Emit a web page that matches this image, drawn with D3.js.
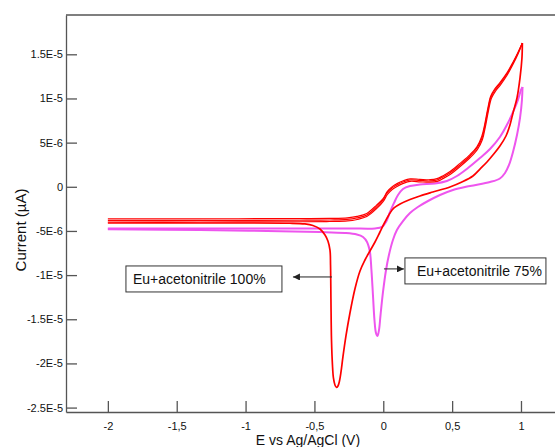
<!DOCTYPE html>
<html>
<head>
<meta charset="utf-8">
<script src="https://cdn.jsdelivr.net/npm/d3@7"></script>
<style>
	body { margin: 0; background: #fff; }
	svg { display: block; font-family: Arial, "Liberation Sans", sans-serif; }
	.axis path, .axis line { stroke: #555; stroke-width: 1.3; }
	.axis text { fill: #111; font-size: 11px; }
</style>
</head>
<body>
<div id="chart"></div>
<script>

// E vs Ag/AgCl (V), current in units of 1E-6 A

// Eu+acetonitrile 100%, forward sweeps (three cycles)
var redUp1 = [[-2.0,-3.63],[-1.33,-3.63],[-0.6,-3.60],[-0.39,-3.58],[-0.26,-3.52],[-0.19,-3.36],[-0.12,-3.02],[-0.05,-2.10],[0.0,-1.30],[0.03,-0.52],[0.065,0.02],[0.10,0.36],[0.145,0.68],[0.195,0.90],[0.265,0.85],[0.34,0.80],[0.39,0.92],[0.435,1.26],[0.485,1.72],[0.555,2.62],[0.63,3.64],[0.68,4.52],[0.715,5.7],[0.737,7.1],[0.758,8.8],[0.78,10.25],[0.81,11.1],[0.847,11.8],[0.898,12.9],[0.942,14.1],[0.978,15.2],[1.01,16.28]]
var redUp2 = [[-2.0,-3.82],[-1.33,-3.82],[-0.605,-3.79],[-0.387,-3.76],[-0.264,-3.70],[-0.192,-3.53],[-0.119,-3.19],[-0.046,-2.25],[-0.002,-1.49],[0.027,-0.70],[0.063,-0.14],[0.099,0.20],[0.143,0.54],[0.194,0.77],[0.266,0.71],[0.339,0.66],[0.39,0.77],[0.434,1.11],[0.484,1.56],[0.557,2.47],[0.63,3.49],[0.68,4.39],[0.717,5.53],[0.739,7.0],[0.76,8.7],[0.782,10.17],[0.811,10.96],[0.847,11.64],[0.898,12.77],[0.942,14.02],[0.978,15.15],[1.01,16.28]]
var redUp3 = [[-2.0,-3.99],[-1.33,-3.99],[-0.6,-3.96],[-0.39,-3.93],[-0.26,-3.87],[-0.19,-3.70],[-0.12,-3.37],[-0.045,-2.42],[0.0,-1.66],[0.03,-0.86],[0.065,-0.30],[0.10,0.04],[0.145,0.38],[0.195,0.62],[0.267,0.56],[0.34,0.52],[0.392,0.62],[0.436,0.95],[0.488,1.42],[0.56,2.32],[0.633,3.34],[0.684,4.24],[0.72,5.36],[0.742,6.85],[0.763,8.55],[0.786,10.05],[0.815,10.84],[0.85,11.52],[0.9,12.66],[0.945,13.95],[0.98,15.1],[1.01,16.25]]
// Eu+acetonitrile 100%, reverse sweep with the reduction peak
var redDown = [[1.01,16.28],[1.007,14.58],[0.993,12.32],[0.971,10.05],[0.942,8.36],[0.92,7.0],[0.891,5.75],[0.847,4.62],[0.796,3.60],[0.753,2.81],[0.702,2.01],[0.651,1.22],[0.571,0.54],[0.484,-0.02],[0.36,-0.59],[0.266,-1.04],[0.194,-1.44],[0.122,-1.95],[0.078,-2.40],[0.049,-2.97],[0.012,-3.99],[-0.024,-5.12],[-0.06,-6.25],[-0.097,-7.27],[-0.133,-8.29],[-0.169,-9.53],[-0.206,-11.57],[-0.242,-14.29],[-0.271,-16.89],[-0.293,-19.27],[-0.307,-20.97],[-0.318,-21.99],[-0.329,-22.55],[-0.34,-22.72],[-0.351,-22.44],[-0.362,-21.65],[-0.369,-20.18],[-0.376,-17.35],[-0.38,-12.82],[-0.383,-8.86],[-0.387,-7.16],[-0.402,-6.14],[-0.423,-5.46],[-0.46,-4.78],[-0.511,-4.38],[-0.569,-4.21],[-0.678,-4.13],[-1.331,-4.10],[-2.0,-4.10]]

// Eu+acetonitrile 75%
var pinkUp = [[-2.0,-4.72],[-1.331,-4.72],[-0.605,-4.72],[-0.242,-4.72],[-0.06,-4.72],[-0.009,-4.55],[0.02,-3.99],[0.049,-2.85],[0.078,-1.83],[0.107,-0.93],[0.143,-0.25],[0.194,0.09],[0.266,0.26],[0.375,0.37],[0.462,0.66],[0.535,1.22],[0.615,2.13],[0.702,3.26],[0.775,4.28],[0.847,5.64],[0.905,7.22],[0.949,8.70],[0.978,9.83],[1.0,10.96],[1.011,11.30]]
var pinkDown = [[1.011,11.30],[1.007,9.83],[0.993,7.79],[0.971,5.86],[0.942,3.94],[0.913,2.47],[0.884,1.56],[0.847,0.94],[0.775,0.54],[0.63,0.09],[0.506,-0.36],[0.412,-0.93],[0.325,-1.61],[0.251,-2.29],[0.194,-2.97],[0.143,-3.88],[0.099,-4.89],[0.07,-6.02],[0.041,-7.72],[0.02,-9.42],[-0.002,-11.91],[-0.02,-14.52],[-0.031,-16.21],[-0.042,-16.89],[-0.053,-16.55],[-0.064,-15.08],[-0.075,-12.25],[-0.086,-9.42],[-0.097,-7.38],[-0.118,-6.25],[-0.147,-5.68],[-0.192,-5.40],[-0.278,-5.23],[-0.46,-5.12],[-1.331,-4.90],[-2.0,-4.80]]

var xTicks = [-2, -1.5, -1, -0.5, 0, 0.5, 1]
var xTickLabels = ["-2", "-1,5", "-1", "-0,5", "0", "0,5", "1"]
var yTicks = [15, 10, 5, 0, -5, -10, -15, -20, -25]
var yTickLabels = ["1.5E-5", "1E-5", "5E-6", "0", "-5E-6", "-1E-5", "-1.5E-5", "-2E-5", "-2.5E-5"]

var labels = ["Eu+acetonitrile 100%", "Eu+acetonitrile 75%"]

var width = 555
var height = 447
var margin = {top: 15, right: 0, bottom: 35, left: 66}

var svg = d3.select("#chart").append("svg")
	.attr("width", width)
	.attr("height", height)

var x = d3.scaleLinear().domain([-2.304, 1.247]).range([margin.left, width - margin.right])
var y = d3.scaleLinear().domain([-25.5, 19.45]).range([height - margin.bottom, margin.top])

var yAxis = d3.axisLeft(y)
	.tickValues(yTicks)
	.tickFormat(function(d, i) { return yTickLabels[i] })
	.tickSizeInner(-11)
	.tickSizeOuter(0)
	.tickPadding(3)

var xAxis = d3.axisBottom(x)
	.tickValues(xTicks)
	.tickFormat(function(d, i) { return xTickLabels[i] })
	.tickSizeInner(-11)
	.tickSizeOuter(0)
	.tickPadding(10)

svg.append("g")
	.attr("class", "axis")
	.attr("transform", "translate(0," + (height - margin.bottom) + ")")
	.call(xAxis)

svg.append("g")
	.attr("class", "axis")
	.attr("transform", "translate(" + margin.left + ",0)")
	.call(yAxis)

// top frame line
svg.append("line")
	.attr("x1", margin.left).attr("x2", width)
	.attr("y1", margin.top).attr("y2", margin.top)
	.attr("stroke", "#555")
	.attr("stroke-width", 1.3)

svg.append("text")
	.attr("x", 308)
	.attr("y", 445)
	.attr("text-anchor", "middle")
	.style("font-size", "14px")
	.style("fill", "#111")
	.text("E vs Ag/AgCl (V)")

svg.append("text")
	.attr("transform", "translate(26,230) rotate(-90)")
	.attr("text-anchor", "middle")
	.style("font-size", "15px")
	.style("fill", "#111")
	.text("Current (µA)")

var line = d3.line()
	.x(function(d) { return x(d[0]) })
	.y(function(d) { return y(d[1]) })
	.curve(d3.curveCatmullRom.alpha(0.5))

var series = [
	{data: pinkUp, color: "#ee55ee", w: 2},
	{data: pinkDown, color: "#ee55ee", w: 2},
	{data: redUp1, color: "#ff0000", w: 1.2},
	{data: redUp2, color: "#ff0000", w: 1.2},
	{data: redUp3, color: "#ff0000", w: 1.2},
	{data: redDown, color: "#ff0000", w: 1.7}
]

svg.selectAll(".cv")
	.data(series)
	.enter().append("path")
	.attr("class", "cv")
	.attr("d", function(d) { return line(d.data) })
	.attr("fill", "none")
	.attr("stroke", function(d) { return d.color })
	.attr("stroke-width", function(d) { return d.w })
	.attr("stroke-linejoin", "round")

// annotations: arrow from a point on the curve to the label box
var defs = svg.append("defs")
defs.append("marker")
	.attr("id", "head")
	.attr("viewBox", "0 0 10 10")
	.attr("refX", 10).attr("refY", 5)
	.attr("markerWidth", 7).attr("markerHeight", 7)
	.attr("markerUnits", "userSpaceOnUse")
	.attr("orient", "auto")
	.append("path")
	.attr("d", "M0,0L10,5L0,10z")
	.attr("fill", "#222")

var notes = [
	{text: labels[0], from: -0.373, to: -0.656, at: -10.21, side: "left", boxW: 156},
	{text: labels[1], from: 0.005, to: 0.15, at: -9.3, side: "right", boxW: 141}
]

notes.forEach(function(n) {
	var x1 = x(n.from), x2 = x(n.to), yy = y(n.at)
	svg.append("line")
		.attr("x1", x1).attr("x2", x2)
		.attr("y1", yy).attr("y2", yy)
		.attr("stroke", "#222")
		.attr("stroke-width", 1)
		.attr("marker-end", "url(#head)")

	var bx = n.side == "left" ? x2 - 11 - n.boxW : x2 + 1
	var by = yy - 11
	svg.append("rect")
		.attr("x", bx).attr("y", by)
		.attr("width", n.boxW).attr("height", 26)
		.attr("fill", "#fff")
		.attr("stroke", "#333")
		.attr("stroke-width", 1)

	svg.append("text")
		.attr("x", bx + (n.side == "left" ? 7 : 12))
		.attr("y", by + 18)
		.style("font-size", "14px")
		.style("fill", "#111")
		.text(n.text)
})

</script>
</body>
</html>
